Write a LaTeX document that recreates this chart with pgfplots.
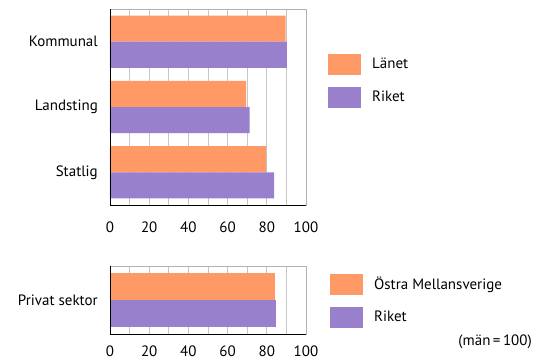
\documentclass[border=0pt]{standalone}
\usepackage{pgfplots}
\pgfplotsset{compat=1.18}
\usepackage{fontspec}
\setmainfont{PT Sans}
\definecolor{lanet}{RGB}{255,153,102}
\definecolor{riket}{RGB}{153,128,204}
\pgfplotsset{
  common/.style={
    scale only axis, width=196pt,
    xbar, xmin=0, xmax=100,
    y dir=reverse, clip=false,
    xtick={0,20,...,100}, minor xtick={10,30,...,90},
    xmajorgrids, xminorgrids,
    grid style={gray!45, line width=0.7pt},
    minor grid style={gray!45, line width=0.7pt},
    major tick length=0pt, minor tick length=0pt,
    axis line style={gray!60, line width=0.7pt},
    bar width=0.4,
    /pgf/number format/assume math mode=true,
    yticklabel style={xshift=-7pt},
    legend cell align=left,
    legend image code/.code={\fill[##1] (0pt,-10.5pt) rectangle (33pt,10.5pt);},
    legend style={draw=none, fill=none, inner sep=0pt, column sep=11pt, row sep=11.5pt,
      nodes={inner sep=0pt}, anchor=north west},
  },
}
\begin{document}
\fontsize{15}{18}\selectfont
\begin{tikzpicture}
\useasboundingbox (0,0) rectangle (536pt,-362pt);
\begin{axis}[common,
  at={(110pt,-9pt)}, anchor=north west, height=196pt,
  ymin=-0.5, ymax=2.5,
  ytick={0,1,2}, yticklabels={Kommunal,Landsting,Statlig},
  xticklabel style={yshift=-12pt},
  legend style={at={(1.112,0.770)}},
]
\addplot[fill=lanet, draw=none, bar shift=-0.2] coordinates {(89.6,0) (69.4,1) (79.6,2)};
\addplot[fill=riket, draw=none, bar shift=0.2] coordinates {(90.3,0) (71.3,1) (83.7,2)};
\legend{Länet, Riket}
\draw[black, line width=0.8pt] (axis description cs:0,1) -- (axis description cs:0,0) -- (axis description cs:1,0);
\end{axis}
\begin{axis}[common,
  at={(110pt,-266pt)}, anchor=north west, height=68pt,
  ymin=-0.5, ymax=0.5,
  ytick={0}, yticklabels={Privat sektor},
  xticklabel style={yshift=-7pt},
  legend style={at={(1.122,0.882)}, row sep=12pt},
]
\addplot[fill=lanet, draw=none, bar shift=-0.2] coordinates {(84.4,0)};
\addplot[fill=riket, draw=none, bar shift=0.2] coordinates {(84.5,0)};
\legend{Östra Mellansverige, Riket}
\draw[black, line width=0.8pt] (axis description cs:0,1) -- (axis description cs:0,0) -- (axis description cs:1,0);
\node[anchor=east, inner sep=0pt] at (axis description cs:2.153,-0.118) {(män\,=\,100)};
\end{axis}
\end{tikzpicture}
\end{document}
